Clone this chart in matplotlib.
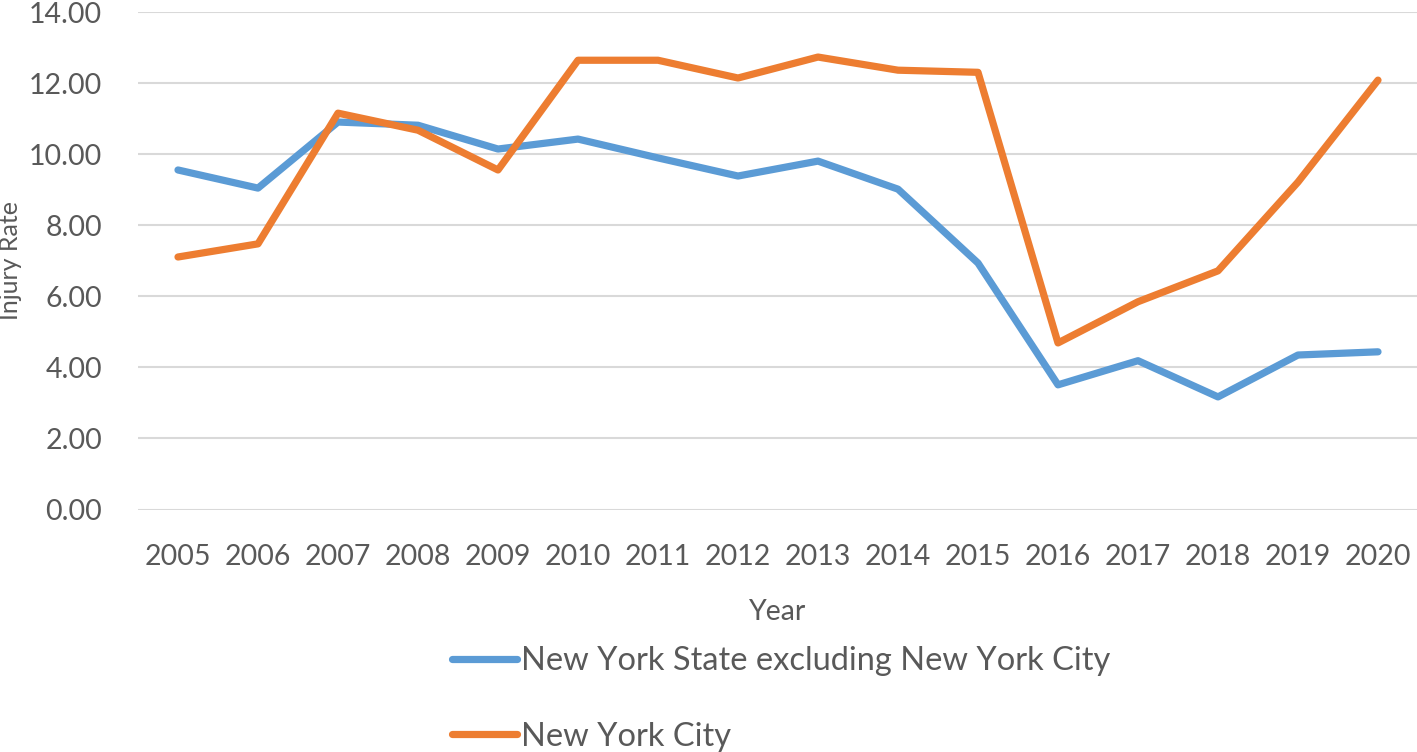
import matplotlib.pyplot as plt

# Dữ liệu
years = ['2005', '2006', '2007', '2008', '2009', '2010', '2011', '2012',
         '2013', '2014', '2015', '2016', '2017', '2018', '2019', '2020']
nys_excl_nyc = [9.56, 9.05, 10.91, 10.82, 10.15, 10.43, 9.90, 9.39,
                9.81, 9.02, 6.94, 3.51, 4.19, 3.17, 4.35, 4.44]
nyc = [7.11, 7.48, 11.16, 10.68, 9.56, 12.65, 12.65, 12.15,
       12.74, 12.37, 12.31, 4.69, 5.85, 6.72, 9.22, 12.09]
series_names = ['New York State excluding New York City', 'New York City']
y_ticks = [0, 2, 4, 6, 8, 10, 12, 14]

plt.rcParams['font.family'] = ['Lato', 'DejaVu Sans']
text_color = '#595959'

fig = plt.figure(figsize=(14.17, 7.52), dpi=100)
ax = fig.add_axes([138 / 1417, 1 - 509.5 / 752, 1280 / 1417, (509.5 - 12.3) / 752])

x = range(len(years))
ax.plot(x, nys_excl_nyc, color='#5B9BD5', lw=5.2, solid_capstyle='round',
        solid_joinstyle='round', label=series_names[0], zorder=3)
ax.plot(x, nyc, color='#ED7D31', lw=5.2, solid_capstyle='round',
        solid_joinstyle='round', label=series_names[1], zorder=3)

ax.set_xlim(-0.5, len(years) - 0.5)
ax.set_ylim(0, 14)
ax.set_yticks(y_ticks)
ax.set_yticklabels([f'{v:.2f}' for v in y_ticks])
ax.set_xticks(list(x))
ax.set_xticklabels(years)
ax.grid(axis='y', color='#D9D9D9', lw=1.5)
ax.set_axisbelow(True)
for s in ax.spines.values():
    s.set_visible(False)
ax.tick_params(length=0, labelsize=20.5, colors=text_color)
ax.tick_params(axis='x', pad=25)
ax.tick_params(axis='y', pad=26)

ax.set_xlabel('Year', fontsize=20.5, color=text_color, labelpad=21)
ax.set_ylabel('Injury Rate', fontsize=18, color=text_color)
ax.yaxis.set_label_coords(-0.091, 0.5)

leg = fig.legend(loc='upper left', bbox_to_anchor=(452 / 1417, 1 - 646 / 752),
                 frameon=False, fontsize=23.5, handlelength=2.0, handletextpad=0.1,
                 labelspacing=1.4, borderaxespad=0, borderpad=0)
for t in leg.get_texts():
    t.set_color(text_color)

fig.savefig('out.png', dpi=100)
